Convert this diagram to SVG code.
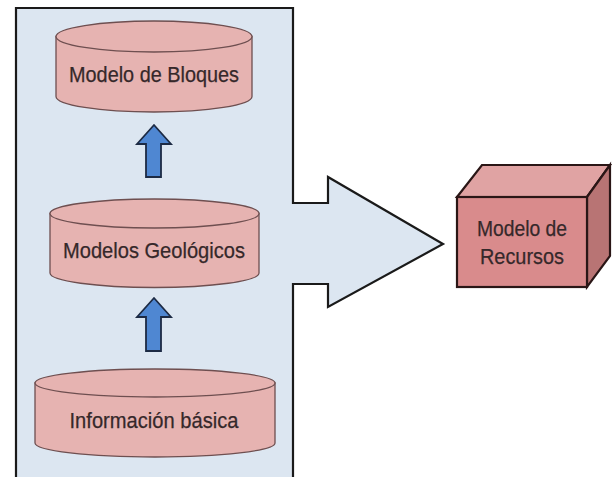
<svg xmlns="http://www.w3.org/2000/svg" width="614" height="477" viewBox="0 0 614 477">
  <defs>
    <style>
      .panel { fill: #dce6f1; stroke: #1a1a1a; stroke-width: 2.2; stroke-linejoin: miter; }
      .cyl { fill: #e6b3b1; stroke: #6e4f50; stroke-width: 1.3; }
      .up { fill: #4f87d2; stroke: #1c2a44; stroke-width: 1.8; stroke-linejoin: miter; }
      .lbl { font-family: "Liberation Sans", Arial, sans-serif; font-size: 22.5px; fill: #35282a; stroke: #35282a; stroke-width: 0.25; text-anchor: middle; }
      .front { fill: #d98b8c; stroke: #2a1616; stroke-width: 2.2; stroke-linejoin: miter; }
      .top { fill: #e0a3a3; stroke: #2a1616; stroke-width: 2.2; stroke-linejoin: miter; }
      .side { fill: #b87474; stroke: #2a1616; stroke-width: 2.2; stroke-linejoin: miter; }
    </style>
  </defs>

  <rect width="614" height="477" fill="#ffffff"/>

  <!-- container with the outgoing arrow -->
  <g id="contenedor">
    <path class="panel" d="M16,478 L16,8 L293,8 L293,203 L328,203 L328,177 L443,244 L328,307 L328,284 L293,284 L293,478"/>
  </g>

  <!-- upward connectors between the data layers -->
  <g id="conectores">
    <path class="up" d="M154,125 L171,144 L161,144 L161,177 L146,177 L146,144 L137,144 Z"/>
    <path class="up" d="M154,298 L171,317 L161,317 L161,351 L146,351 L146,317 L137,317 Z"/>
  </g>

  <g id="modelo-bloques">
    <path class="cyl" d="M56,36.5 L56,96.5 A98,15.5 0 0 0 252,96.5 L252,36.5 Z"/>
    <ellipse class="cyl" cx="154" cy="36.5" rx="98" ry="15.5"/>
    <text class="lbl" x="154" y="82" textLength="170" lengthAdjust="spacingAndGlyphs">Modelo de Bloques</text>
  </g>

  <g id="modelos-geologicos">
    <path class="cyl" d="M50,213.5 L50,273 A104.5,14.5 0 0 0 259,273 L259,213.5 Z"/>
    <ellipse class="cyl" cx="154.5" cy="213.5" rx="104.5" ry="14.5"/>
    <text class="lbl" x="154" y="258" textLength="182" lengthAdjust="spacingAndGlyphs">Modelos Geológicos</text>
  </g>

  <g id="informacion-basica">
    <path class="cyl" d="M35,383 L35,443 A120,14 0 0 0 275,443 L275,383 Z"/>
    <ellipse class="cyl" cx="155" cy="383" rx="120" ry="14"/>
    <text class="lbl" x="154" y="428" textLength="169" lengthAdjust="spacingAndGlyphs">Información básica</text>
  </g>

  <g id="modelo-recursos">
    <path class="top" d="M457,197 L482,165 L610,165 L587,197 Z"/>
    <path class="side" d="M587,197 L610,165 L610,256 L587,287 Z"/>
    <rect class="front" x="457" y="197" width="130" height="90"/>
    <text class="lbl" x="522" y="236" textLength="90" lengthAdjust="spacingAndGlyphs">Modelo de</text>
    <text class="lbl" x="522" y="264" textLength="84" lengthAdjust="spacingAndGlyphs">Recursos</text>
  </g>
</svg>
